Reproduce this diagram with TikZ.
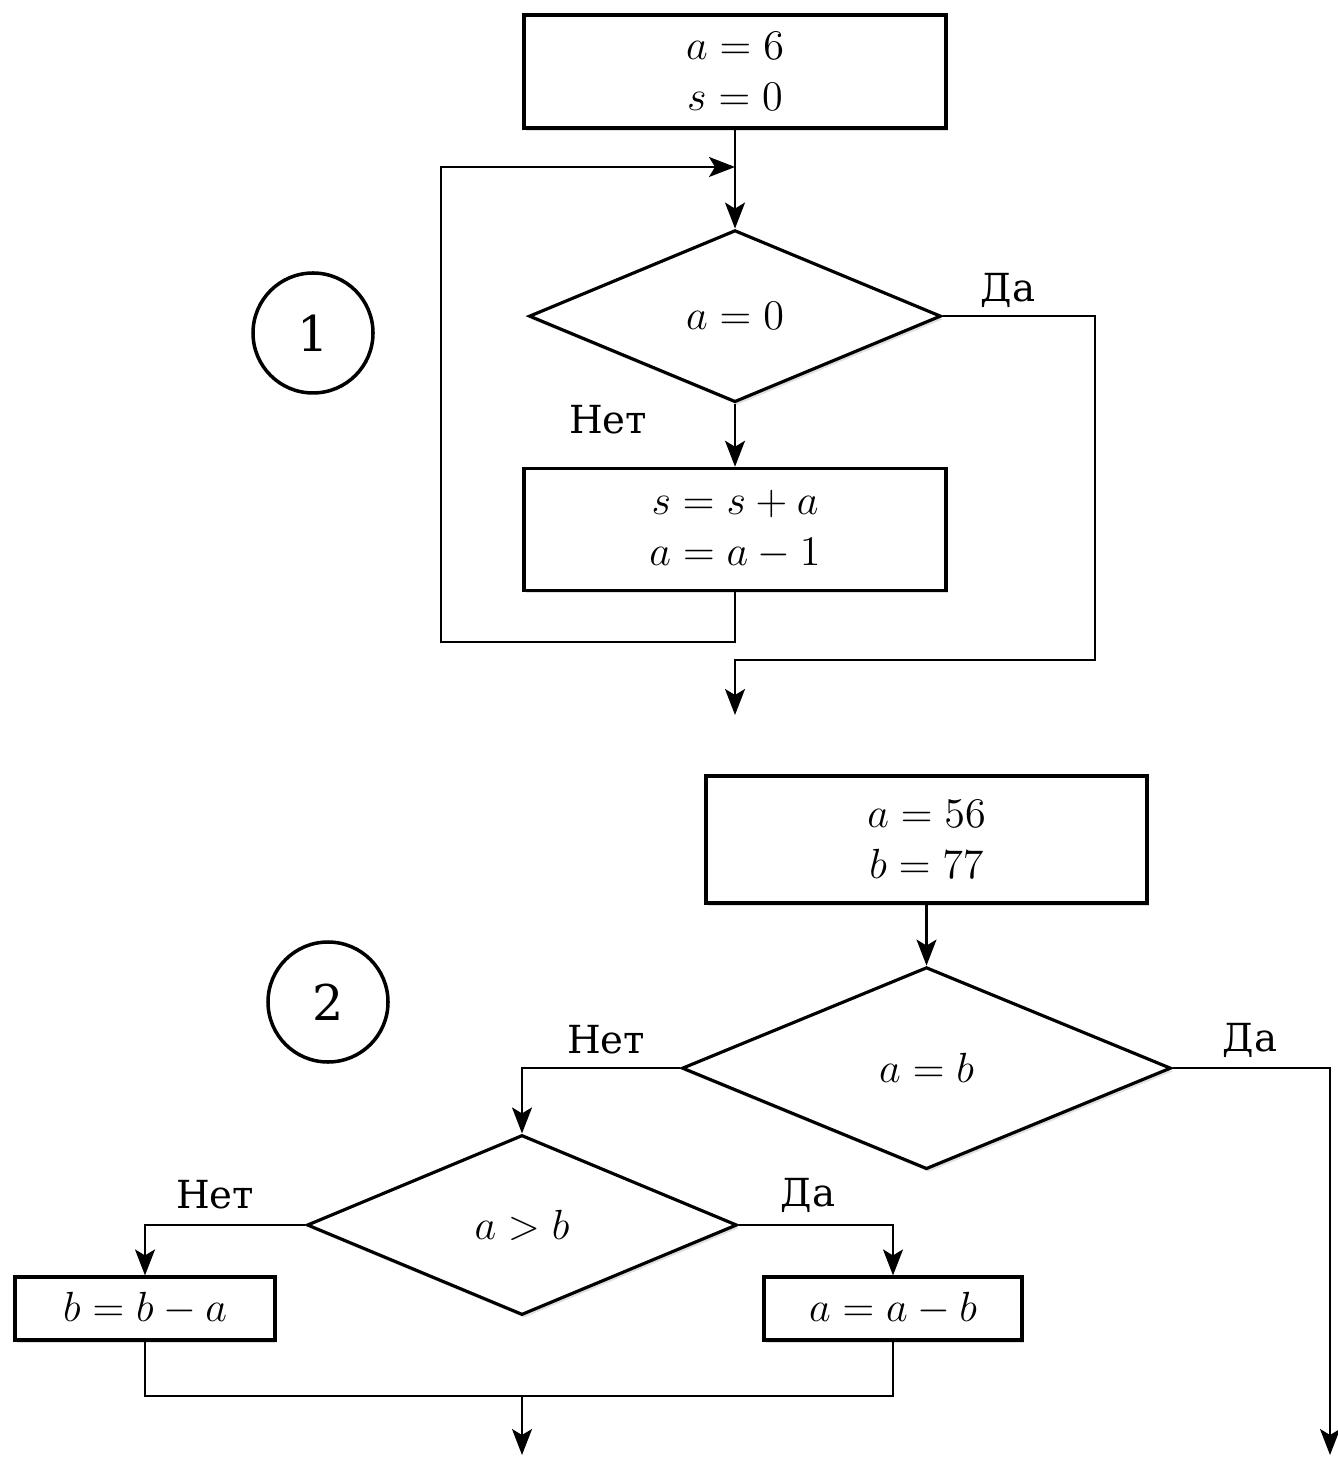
\documentclass[tikz,border=0pt]{standalone}
\usepackage[no-math]{fontspec}
\setmainfont{DejaVu Serif}
\usetikzlibrary{shapes.geometric, arrows.meta, positioning, shadows}

\begin{document}
\begin{tikzpicture}[
		% стили блоков и соединений
		block/.style = {draw, fill=white, rectangle, line width=0.9pt, minimum width=4.22cm, minimum height=1.2cm, align=center, font=\fontsize{12}{14.5}\selectfont, drop shadow={opacity=0.25, shadow xshift=0.6pt, shadow yshift=-0.9pt}},
		small_block/.style = {block, minimum width=2.6cm, minimum height=0.63cm},
		cond/.style = {draw, fill=white, diamond, line width=0.9pt, inner sep=0pt, font=\fontsize{12}{14.5}\selectfont, drop shadow={opacity=0.25, shadow xshift=0.6pt, shadow yshift=-0.9pt}},
		num_circ/.style = {draw, circle, line width=1pt, minimum size=1.2cm, font=\fontsize{14}{16}\selectfont},
		lbl/.style = {font=\fontsize{11}{13}\selectfont},
		conn/.style = {line width=0.6pt},
		>={Stealth[length=2.6mm, width=2mm, inset=0.6mm]}
		]
		
		\useasboundingbox (0,0) rectangle (13.37,-14.59);
		
		% --- СХЕМА 1 ---
		\node [num_circ] (n1) at (3.13,-3.33) {1};
		
		\node [block, minimum height=1.13cm] (init1) at (7.35,-0.715) {$a = 6$\\$s = 0$};
		\node [cond, below=0.99cm of init1, minimum width=4.12cm, minimum height=1.72cm] (cond1) {$a = 0$};
		\node [block, below=0.63cm of cond1, minimum height=1.22cm] (body1) {$s = s + a$\\$a = a - 1$};
		
		\node [lbl] (no1) at (6.08,-4.20) {Нет};
		\node [lbl] (yes1) at (10.08,-2.90) {Да};
		
		% точки для цикла и выхода
		\coordinate (join1) at (7.35,-1.67);
		\coordinate (loop_l) at (4.41,-6.42);
		\coordinate (yes1_r) at (10.95,-6.60);
		\coordinate (exit1) at (7.35,-7.15);
		
		\draw [conn, ->] (init1) -- (cond1);
		\draw [conn, ->] (cond1) -- (body1);
		\draw [conn, ->] (body1.south) |- (loop_l) |- (join1);
		\draw [conn, ->] (cond1.east) -| (yes1_r) -| (exit1);
		
		% --- СХЕМА 2 ---
		\node [num_circ] (n2) at (3.28,-10.02) {2};
		
		\node [block, minimum width=4.41cm, minimum height=1.27cm] (init2) at (9.265,-8.395) {$a = 56$\\$b = 77$};
		\node [cond, below=0.61cm of init2, minimum width=4.89cm, minimum height=2.02cm] (cond2) {$a = b$};
		\node [cond, minimum width=4.30cm, minimum height=1.80cm] (cond3) at (5.22,-12.25) {$a > b$};
		\node [small_block] (minus_b) at (1.45,-13.085) {$b = b - a$};
		\node [small_block, minimum width=2.58cm] (minus_a) at (8.93,-13.085) {$a = a - b$};
		
		\node [lbl] (no2) at (6.06,-10.40) {Нет};
		\node [lbl] (yes2) at (12.50,-10.40) {Да};
		\node [lbl] (no3) at (2.15,-11.95) {Нет};
		\node [lbl] (yes3) at (8.08,-11.95) {Да};
		
		\coordinate (exit2) at (13.30,-14.55);
		\coordinate (merge) at (5.22,-13.96);
		\coordinate (exit3) at (5.22,-14.55);
		
		\draw [conn, ->] (init2) -- (cond2);
		\draw [conn, ->] (cond2.west) -| (cond3.north);
		\draw [conn, ->] (cond2.east) -| (exit2);
		\draw [conn, ->] (cond3.west) -| (minus_b.north);
		\draw [conn, ->] (cond3.east) -| (minus_a.north);
		
		% слияние ветвей
		\draw [conn] (minus_b.south) |- (minus_a.south |- merge) -- (minus_a.south);
		\draw [conn, ->] (merge) -- (exit3);
		
	\end{tikzpicture}
\end{document}
